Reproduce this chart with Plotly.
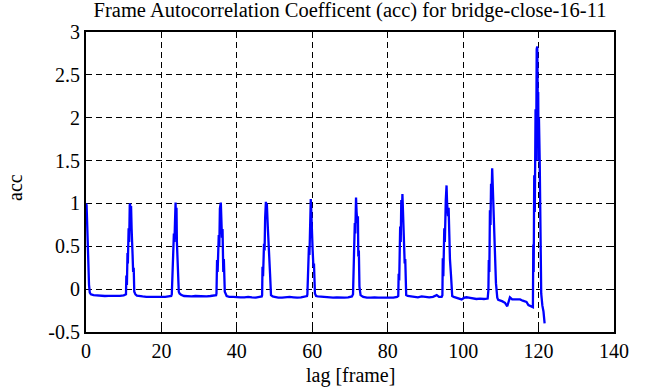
import plotly.graph_objects as go

# ---- data ----
lag = [
    0.0, 0.15, 0.25, 0.4, 0.5, 0.65, 0.8, 1.0, 1.3, 2, 3, 4, 5, 6, 7, 8, 9, 10, 10.5,
    10.6, 10.7, 10.85, 11.0, 11.1, 11.3, 11.45, 11.6, 11.7, 11.8, 11.95, 12.1, 12.2, 12.35, 12.5, 12.65, 12.8, 13.1, 13.5,
    14, 15, 16, 17, 18, 19, 20, 21, 22, 22.6,
    22.75, 22.85, 23.0, 23.15, 23.3, 23.45, 23.6, 23.75, 23.85, 24.0, 24.1, 24.3, 24.45, 24.6, 24.8, 25.2,
    26, 27, 28, 29, 30, 31, 32, 33, 34, 34.5,
    34.6, 34.75, 34.9, 35.2, 35.35, 35.5, 35.75, 35.9, 36.05, 36.2, 36.4, 36.55, 36.8, 37.3,
    38, 39, 40, 41, 42, 43, 44, 45, 46, 46.6,
    46.7, 46.8, 46.95, 47.2, 47.35, 47.5, 47.7, 47.8, 47.95, 48.2, 48.3, 48.45, 48.6, 48.8, 49.05, 49.5,
    50, 51, 52, 53, 54, 55, 56, 57, 58, 58.6,
    58.7, 58.8, 58.95, 59.1, 59.25, 59.4, 59.6, 59.7, 59.8, 59.95, 60.1, 60.3, 60.45, 60.7, 61.0,
    61.5, 62.5, 63.5, 64.5, 65.5, 66.5, 67.5, 68.5, 69.5, 70.5,
    70.8, 70.9, 71.05, 71.15, 71.27, 71.4, 71.6, 71.75, 71.95, 72.1, 72.2, 72.35, 72.5, 72.8,
    73.5, 74.5, 75.5, 76.5, 77.5, 78.5, 79.5, 80.5, 81.5, 82.5,
    82.8, 82.9, 83.05, 83.3, 83.45, 83.6, 83.75, 83.9, 84.05, 84.2, 84.35, 84.5, 84.65, 84.9, 85.3,
    86, 87, 88, 89, 90, 91, 92, 93, 93.6, 94.3,
    94.5, 94.6, 94.75, 95.0, 95.15, 95.4, 95.6, 95.75, 96.0, 96.15, 96.3, 96.5, 96.8, 97.1, 97.5,
    98, 99, 99.6, 100.3, 100.9, 101.5, 102.5, 103.5, 104.5, 105.5, 106.5,
    106.7, 106.8, 106.95, 107.1, 107.25, 107.4, 107.55, 107.7, 107.85, 107.95, 108.15, 108.3, 108.5, 108.7, 109.05,
    109.3, 110.3, 111.1, 111.7, 112.4, 113.0, 114.0, 115.1, 115.8, 116.8, 117.3, 118.0, 118.5,
    118.6, 118.7, 118.85, 119.0, 119.2, 119.35, 119.5, 119.65, 119.8, 119.9, 120.0, 120.1, 120.3, 120.5, 120.7, 121.0, 121.3, 121.6,
]

acc = [
    1.00, 0.98, 0.85, 0.55, 0.40, 0.20, 0.05, -0.04, -0.06, -0.07, -0.075, -0.078, -0.08, -0.078, -0.08, -0.08, -0.078, -0.072, -0.065,
    -0.06, 0.16, 0.05, 0.42, 0.30, 0.71, 0.55, 0.98, 1.00, 0.80, 0.97, 0.70, 0.63, 0.40, 0.20, 0.25, -0.03, -0.06, -0.075,
    -0.08, -0.085, -0.09, -0.092, -0.09, -0.093, -0.09, -0.09, -0.085, -0.08,
    -0.06, 0.19, 0.10, 0.45, 0.65, 0.55, 0.79, 1.01, 0.75, 0.95, 0.55, 0.26, 0.30, -0.03, -0.05, -0.065,
    -0.08, -0.083, -0.085, -0.08, -0.083, -0.083, -0.085, -0.08, -0.075, -0.07,
    -0.05, 0.34, 0.20, 0.63, 0.50, 0.94, 1.01, 0.80, 0.60, 0.70, 0.20, 0.35, -0.03, -0.08,
    -0.09, -0.09, -0.095, -0.095, -0.095, -0.09, -0.095, -0.098, -0.09, -0.085,
    -0.07, 0.26, 0.15, 0.53, 0.45, 0.83, 1.02, 0.90, 1.00, 0.73, 0.60, 0.49, 0.25, 0.18, -0.07, -0.085,
    -0.09, -0.10, -0.10, -0.095, -0.09, -0.095, -0.10, -0.095, -0.085, -0.08,
    -0.06, 0.18, 0.10, 0.49, 0.40, 0.80, 1.05, 0.95, 0.76, 0.85, 0.45, 0.26, 0.30, -0.05, -0.08,
    -0.085, -0.09, -0.095, -0.10, -0.10, -0.095, -0.10, -0.10, -0.095, -0.085,
    -0.06, 0.145, 0.05, 0.55, 0.77, 0.65, 1.07, 0.90, 0.77, 0.85, 0.38, 0.45, 0.03, -0.07,
    -0.09, -0.10, -0.10, -0.095, -0.10, -0.10, -0.105, -0.10, -0.10, -0.09,
    -0.08, 0.18, 0.10, 0.73, 0.55, 1.04, 0.85, 1.11, 0.90, 0.77, 0.50, 0.30, 0.35, -0.07, -0.08,
    -0.085, -0.095, -0.095, -0.085, -0.09, -0.095, -0.09, -0.07, -0.09, -0.09,
    -0.07, 0.36, 0.15, 0.71, 0.55, 1.04, 1.21, 1.00, 0.85, 0.95, 0.50, 0.35, 0.15, -0.08, -0.09,
    -0.095, -0.11, -0.12, -0.10, -0.095, -0.10, -0.11, -0.115, -0.11, -0.115, -0.11,
    -0.01, 0.34, 0.20, 0.92, 0.75, 1.23, 1.10, 1.41, 1.20, 1.08, 0.70, 0.57, 0.30, 0.07, -0.10,
    -0.125, -0.14, -0.16, -0.20, -0.096, -0.12, -0.12, -0.12, -0.135, -0.15, -0.185, -0.20, -0.21,
    0.52, 0.20, 1.33, 0.90, 2.10, 1.50, 2.80, 2.83, 2.10, 2.30, 1.50, 2.00, 1.50, 0.71, -0.05, -0.19, -0.26, -0.40,
]
assert len(lag) == len(acc)

x_ticks = [0, 20, 40, 60, 80, 100, 120, 140]
x_tick_text = ["0", "20", "40", "60", "80", "100", "120", "140"]
y_ticks = [-0.5, 0, 0.5, 1, 1.5, 2, 2.5, 3]
y_tick_text = ["-0.5", "0", "0.5", "1", "1.5", "2", "2.5", "3"]

title_text = "Frame Autocorrelation Coefficent (acc) for bridge-close-16-11"
x_title = "lag [frame]"
y_title = "acc"

FONT = "Liberation Serif, Times New Roman, serif"

W, H = 666, 387

fig = go.Figure()
fig.add_trace(go.Scatter(
    x=lag, y=acc, mode="lines",
    line=dict(color="#0000ff", width=2.3),
    showlegend=False,
))

axis_common = dict(
    ticks="inside", ticklen=6, tickwidth=1, tickcolor="black",
    mirror="allticks", showline=True, linecolor="black", linewidth=2,
    showgrid=True, gridcolor="black", gridwidth=1, griddash="6px,4px",
    zeroline=False, tickfont=dict(family=FONT, size=20, color="black"),
    layer="below traces",
)

fig.update_layout(
    width=W, height=H,
    margin=dict(l=86, r=52, t=32, b=55),
    paper_bgcolor="white", plot_bgcolor="white",
    font=dict(family=FONT, color="black", size=20),
    title=dict(text=title_text, x=0.5, xref="paper", xanchor="center",
               y=1 - 10 / H, yref="container", yanchor="middle",
               font=dict(family=FONT, size=20.5, color="black")),
    xaxis=dict(range=[0, 140], tickvals=x_ticks, ticktext=x_tick_text, **axis_common),
    yaxis=dict(range=[-0.5, 3], tickvals=y_ticks, ticktext=y_tick_text, **axis_common),
    annotations=[
        dict(text=x_title, xref="paper", yref="paper", x=0.5, y=(300 - 43) / 300 - 1,
             xanchor="center", yanchor="middle", showarrow=False,
             font=dict(family=FONT, size=20, color="black")),
        dict(text=y_title, xref="paper", yref="paper", x=(15 - 86) / 528, y=0.48,
             xanchor="center", yanchor="middle", showarrow=False, textangle=-90,
             font=dict(family=FONT, size=20, color="black")),
    ],
)

# remove the default 8px page margin so the figure sits at the window's corner
fig.write_html("out.html", config={"displayModeBar": False},
               post_script="document.body.style.margin='0';")
